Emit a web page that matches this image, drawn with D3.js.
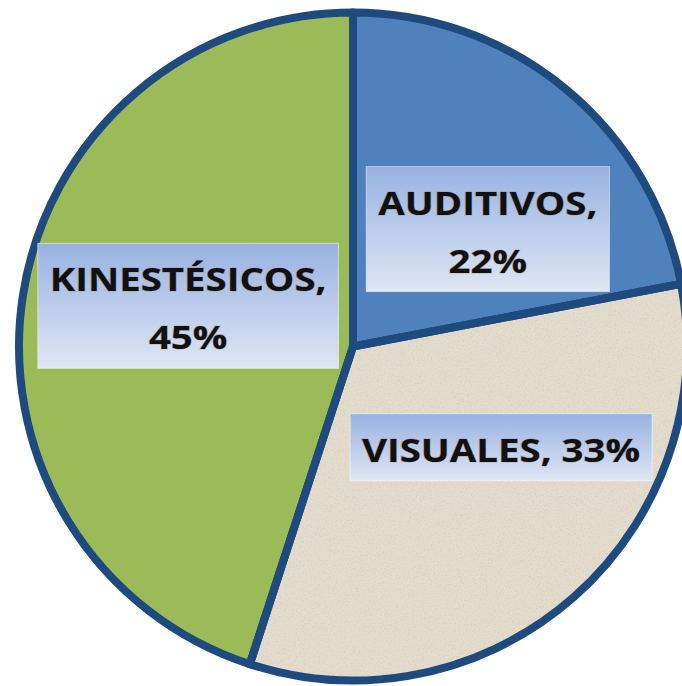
<!DOCTYPE html>
<html>
<head>
<meta charset="utf-8">
<script src="https://cdn.jsdelivr.net/npm/d3@7"></script>
<style>
  html, body { margin: 0; padding: 0; background: #fff; }
  svg { display: block; }
</style>
</head>
<body>
<div id="chart"></div>
<script>
// data
var categories = ["AUDITIVOS", "VISUALES", "KINESTÉSICOS"];
var values = [22, 33, 45];
var sliceColors = ["#4f81bd", "#e3dbcc", "#9bbb59"];

// label layout (Excel "best fit" places them a bit off the centroid)
var labelWrap = [true, false, true];
var labelNudge = [[22, 19], [31, -32], [10, -13]];

var width = 682, height = 686;
var cx = 353, cy = 346.5, radius = 334;
var textStretch = 1.2; // the source picture's lettering is a little wide

var svg = d3.select("#chart")
  .append("svg")
  .attr("width", width)
  .attr("height", height);

var defs = svg.append("defs");

//paper-ish texture for the beige slice
var paper = defs.append("filter").attr("id", "paper")
  .attr("x", 0).attr("y", 0).attr("width", 1).attr("height", 1);
paper.append("feTurbulence")
  .attr("type", "fractalNoise")
  .attr("baseFrequency", 0.6)
  .attr("numOctaves", 2)
  .attr("seed", 7)
  .attr("result", "noise");
paper.append("feColorMatrix")
  .attr("in", "noise")
  .attr("type", "matrix")
  .attr("values", "0 0 0 0 0.6  0 0 0 0 0.55  0 0 0 0 0.47  1.6 0 0 0 -0.8")
  .attr("result", "speck");
paper.append("feComposite")
  .attr("in", "speck").attr("in2", "SourceGraphic")
  .attr("operator", "in").attr("result", "speckIn");
var merge = paper.append("feMerge");
merge.append("feMergeNode").attr("in", "SourceGraphic");
merge.append("feMergeNode").attr("in", "speckIn");

//label box gradient
var grad = defs.append("linearGradient").attr("id", "boxGrad")
  .attr("x1", 0).attr("y1", 0).attr("x2", 0).attr("y2", 1);
grad.append("stop").attr("offset", "0%").attr("stop-color", "#98b2e1");
grad.append("stop").attr("offset", "100%").attr("stop-color", "#dfe6f4");

var slices = categories.map(function(c, i) {
  return { name: c, value: values[i], color: sliceColors[i], i: i };
});

var pie = d3.pie()
  .sort(null)
  .value(function(d) { return d.value; });

var arc = d3.arc().innerRadius(0).outerRadius(radius);
var labelArc = d3.arc().innerRadius(radius * 0.53).outerRadius(radius * 0.53);

var g = svg.append("g").attr("transform", "translate(" + cx + "," + cy + ")");

var arcs = pie(slices);

g.selectAll(".slice")
  .data(arcs)
  .enter()
  .append("path")
  .attr("class", "slice")
  .attr("d", arc)
  .attr("fill", function(d) { return d.data.color; })
  .attr("filter", function(d) { return d.data.i === 1 ? "url(#paper)" : null; });

//outlines on top so joins look even
g.selectAll(".edge")
  .data(arcs)
  .enter()
  .append("path")
  .attr("class", "edge")
  .attr("d", arc)
  .attr("fill", "none")
  .attr("stroke", "#1f4a7e")
  .attr("stroke-width", 8)
  .attr("stroke-linejoin", "round");

//labels
var lineGap = 58;
var labels = g.selectAll(".label")
  .data(arcs)
  .enter()
  .append("g")
  .attr("class", "label")
  .attr("transform", function(d) {
    var c = labelArc.centroid(d);
    var n = labelNudge[d.data.i];
    return "translate(" + (c[0] + n[0]) + "," + (c[1] + n[1]) + ")";
  });

labels.each(function(d) {
  var el = d3.select(this);
  var pct = d.data.value + "%";
  var lines = labelWrap[d.data.i]
    ? [d.data.name + ",", pct]
    : [d.data.name + ", " + pct];

  var rect = el.append("rect");
  var text = el.append("text")
    .attr("transform", "scale(" + textStretch + ",1)")
    .attr("text-anchor", "middle")
    .attr("font-family", "'Open Sans', Lato, sans-serif")
    .attr("font-weight", "bold")
    .attr("font-size", 32)
    .attr("fill", "#111")
    .style("paint-order", "stroke")
    .attr("stroke", "rgba(120,80,20,0.3)")
    .attr("stroke-width", 1.2);

  var first = -((lines.length - 1) * lineGap) / 2 + 14.5;
  var last = first + (lines.length - 1) * lineGap;
  lines.forEach(function(t, k) {
    text.append("tspan")
      .attr("x", 0)
      .attr("y", first + k * lineGap)
      .text(t);
  });

  var bb = text.node().getBBox();
  var w = bb.width * textStretch;
  var padX = 12;
  var top = first - 48, bottom = last + 19;
  rect.attr("x", -w / 2 - padX)
    .attr("y", top)
    .attr("width", w + padX * 2)
    .attr("height", bottom - top)
    .attr("fill", "url(#boxGrad)")
    .attr("stroke", "rgba(255,255,255,0.5)")
    .attr("stroke-width", 1);
});
</script>
</body>
</html>
